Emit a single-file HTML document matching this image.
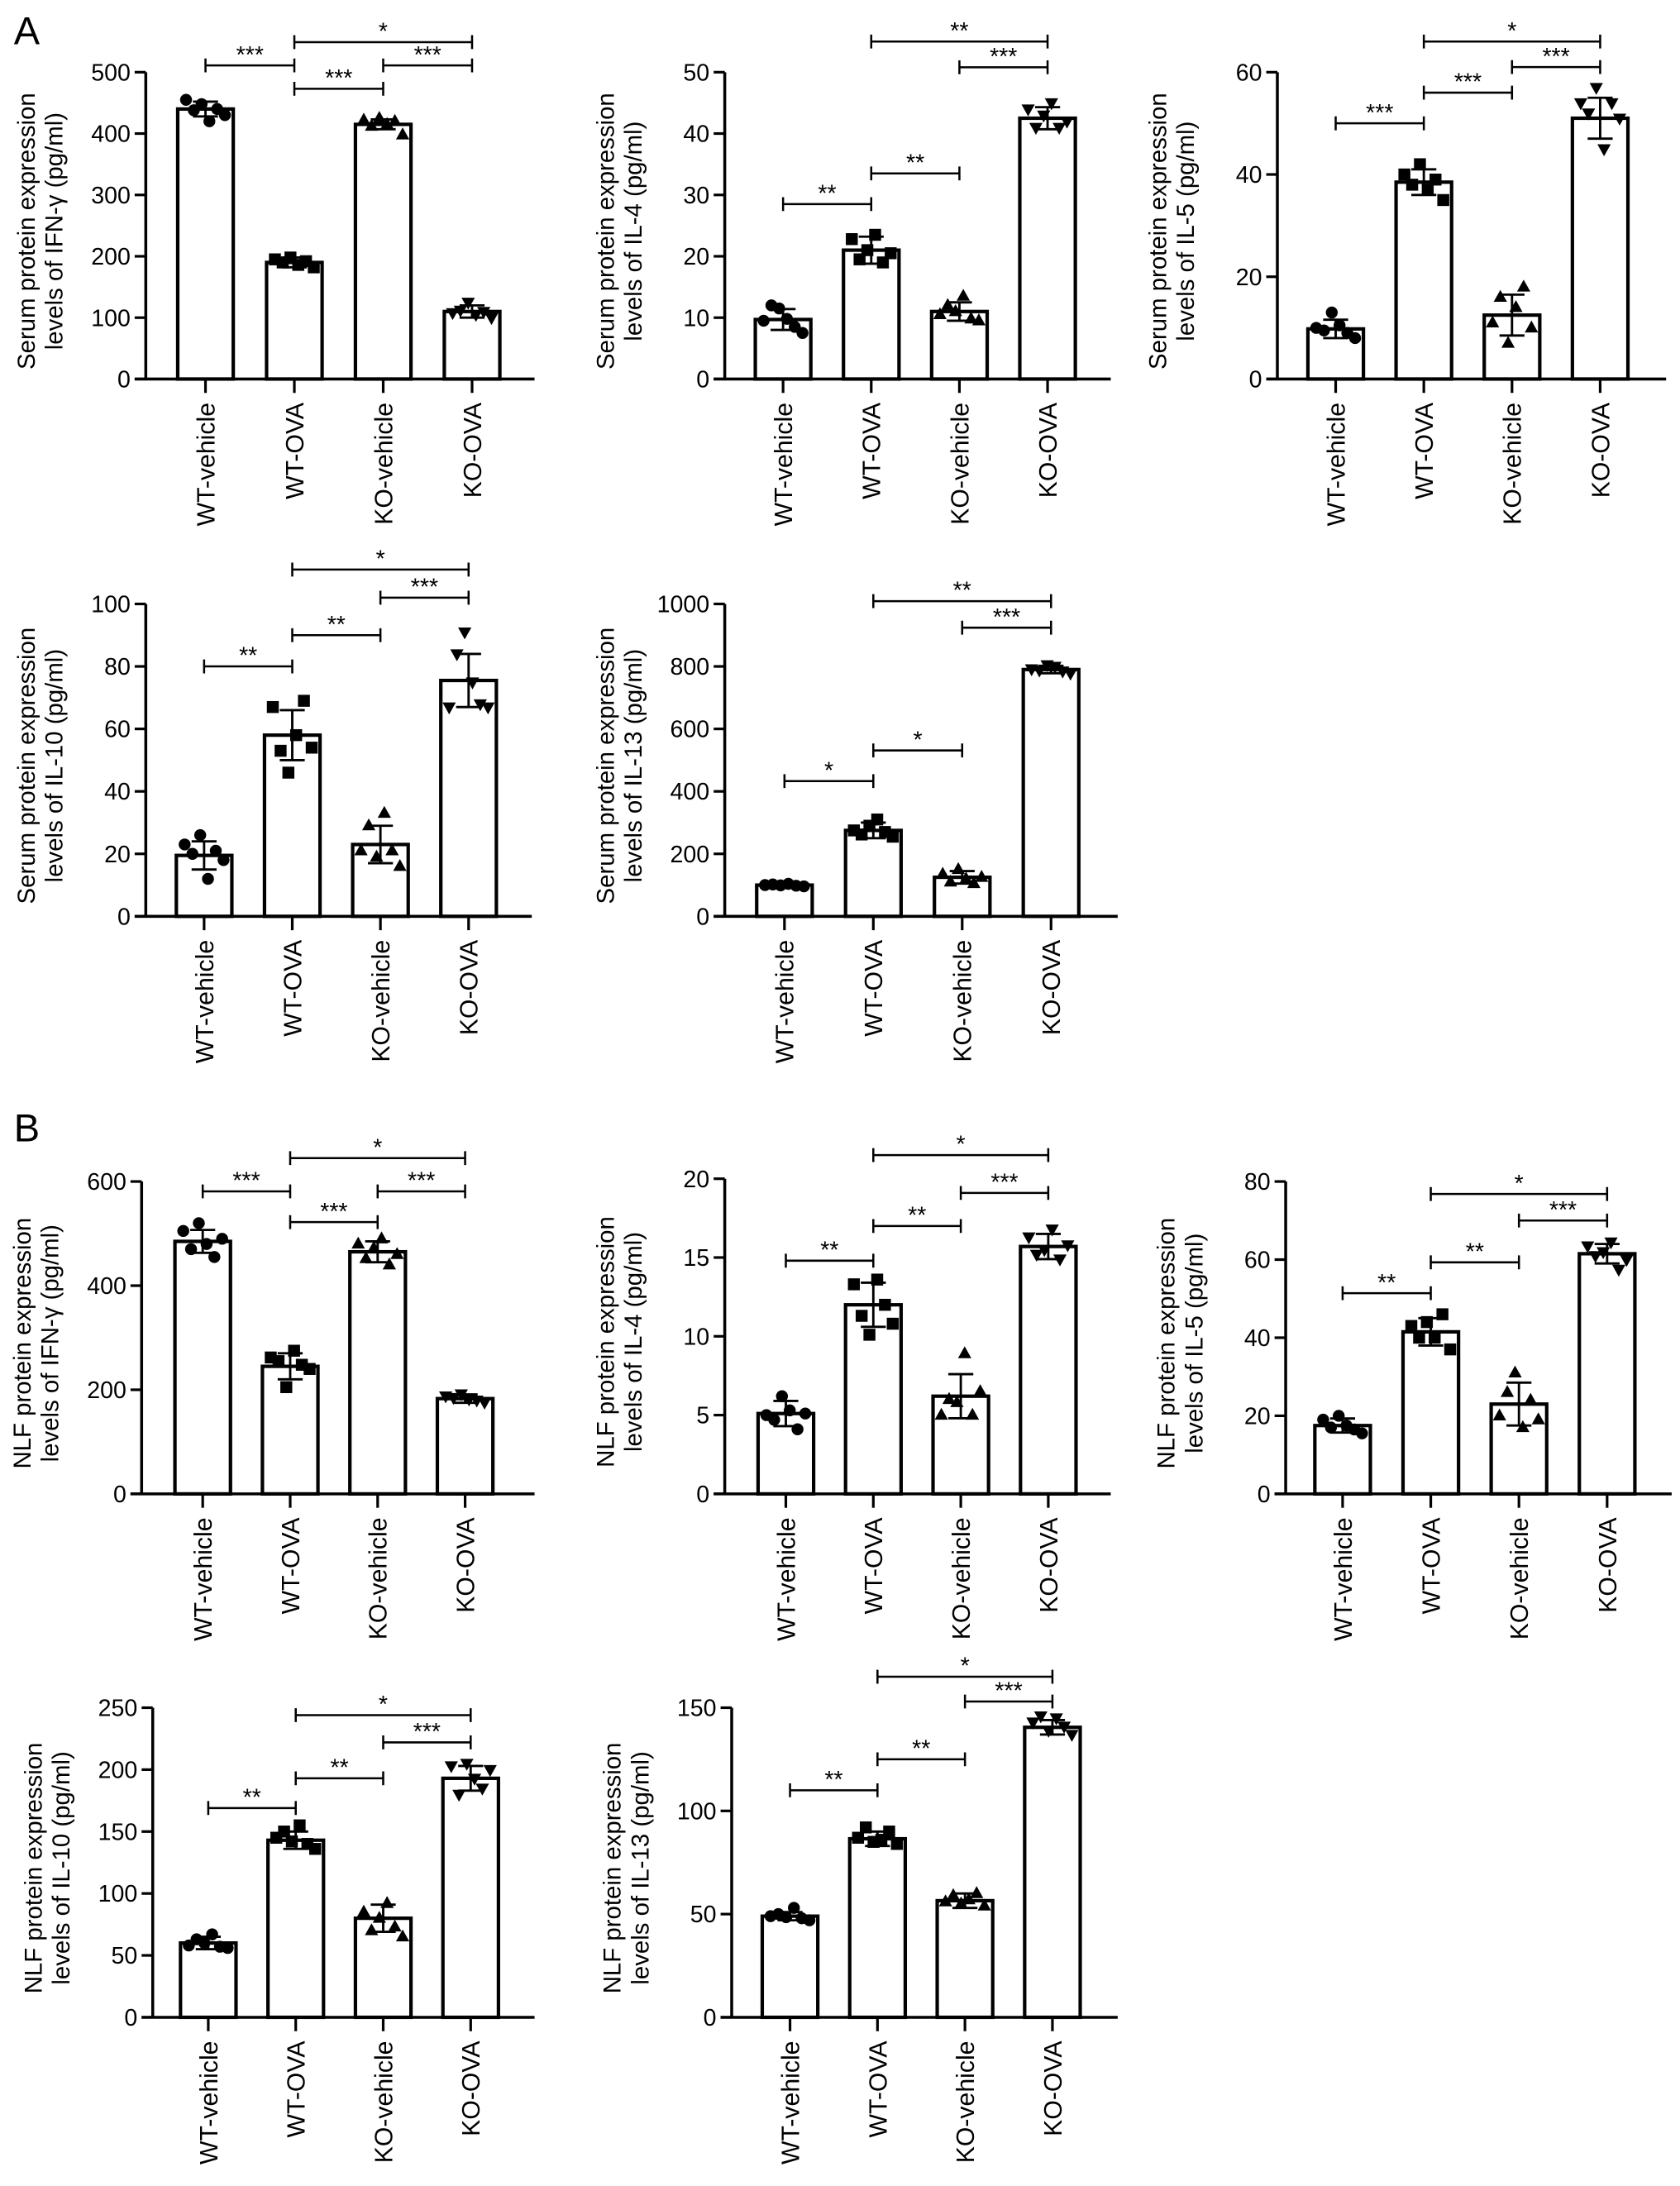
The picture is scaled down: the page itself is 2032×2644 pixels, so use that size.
<!DOCTYPE html>
<html><head><meta charset="utf-8"><style>
html,body{margin:0;padding:0;background:#fff;}
svg{display:block;font-family:"Liberation Sans",Arial,sans-serif;}
</style></head><body>
<svg id="fig" width="2032" height="2644" viewBox="0 0 1210 1574.5" preserveAspectRatio="none" xmlns="http://www.w3.org/2000/svg">
<rect width="1210" height="1574.5" fill="#fff"/>
<text x="10" y="32" font-size="28">A</text>
<text x="10" y="822" font-size="28">B</text>
</svg>
<script>
const categories = ["WT-vehicle","WT-OVA","KO-vehicle","KO-OVA"];
const p1Means=[440,190,415,110], p1Sd=[12,8,8,10];
const p1Pts=[[455,438,448,420,440,430],[195,190,198,186,192,182],[422,412,425,415,420,398],[108,112,125,105,110,100]];
const p2Means=[9.7,21,11,42.5], p2Sd=[1.7,2.2,1.5,1.8];
const p2Pts=[[9.5,12,11.5,9.8,8.5,7.5],[22.8,19.5,21,23.5,19,20.5],[10.5,12,11,13.5,9.8,9.5],[44,41,43,45,41,42]];
const p3Means=[9.8,38.5,12.5,51], p3Sd=[1.8,2.5,4,4];
const p3Pts=[[10,9.5,13,10.5,9,8],[40,38,42,37,39,35],[11,16,7,14,18,10],[54,52,57,45,54,51]];
const p4Means=[19.5,58,23,75.5], p4Sd=[4.5,8,6,8.5];
const p4Pts=[[23,20,26,12,21,18],[67,53,46,58,69,54],[21,29,19,33,21,16],[67,84,91,75,68,67]];
const p5Means=[100,275,125,790], p5Sd=[8,25,20,12];
const p5Pts=[[100,102,99,104,98,96],[275,262,290,310,270,255],[135,110,150,120,105,125],[792,788,805,800,785,778]];
const p6Means=[485,245,465,183], p6Sd=[22,25,20,8];
const p6Pts=[[505,470,520,480,455,490],[262,255,205,275,248,240],[480,452,472,490,440,460],[188,185,192,182,180,176]];
const p7Means=[5.1,12,6.2,15.7], p7Sd=[0.8,1.4,1.4,0.8];
const p7Pts=[[5,4.7,6.2,5.3,4.1,5.1],[13.3,11.3,10.1,13.6,12,10.8],[5,6,5.8,8.9,5,6.5],[16.3,15.2,15.5,16.8,14.9,15.8]];
const p8Means=[17.5,41.5,23,61.5], p8Sd=[1.8,3.5,5.5,2.5];
const p8Pts=[[19,17,20,17.5,16.5,15.5],[43,40,44,40,46,37],[20,26,31,17,24,19],[63.5,61,62,64.5,57.5,60]];
const p9Means=[60,143,80,193], p9Sd=[5,7,11,10];
const p9Pts=[[58,63,60,67,57,56],[145,150,142,155,140,136],[85,70,80,92,73,65],[203,180,205,193,185,200]];
const p10Means=[49,86.5,56.5,140.5], p10Sd=[2,3.5,3.5,3.5];
const p10Pts=[[49,50,48.5,53,48,47],[87,92,85,86,90,84],[56,59,55,57,60,54],[143,146,139,145,141,137]];
const p1Ticks=[0,100,200,300,400,500], p2Ticks=[0,10,20,30,40,50], p3Ticks=[0,20,40,60];
const p4Ticks=[0,20,40,60,80,100], p5Ticks=[0,200,400,600,800,1000];
const p6Ticks=[0,200,400,600], p7Ticks=[0,5,10,15,20], p8Ticks=[0,20,40,60,80];
const p9Ticks=[0,50,100,150,200,250], p10Ticks=[0,50,100,150];
const p1Sig=[[0,1,511,"***"],[1,2,473,"***"],[1,3,549,"*"],[2,3,511,"***"]];
const p2Sig=[[0,1,28.5,"**"],[1,2,33.5,"**"],[1,3,55,"**"],[2,3,50.8,"***"]];
const p3Sig=[[0,1,50,"***"],[1,2,56,"***"],[1,3,66,"*"],[2,3,61,"***"]];
const p4Sig=[[0,1,80,"**"],[1,2,90,"**"],[1,3,111,"*"],[2,3,102,"***"]];
const p5Sig=[[0,1,433,"*"],[1,2,531,"*"],[1,3,1009,"**"],[2,3,924,"***"]];
const p6Sig=[[0,1,581,"***"],[1,2,522,"***"],[1,3,645,"*"],[2,3,581,"***"]];
const p7Sig=[[0,1,14.8,"**"],[1,2,17,"**"],[1,3,21.5,"*"],[2,3,19.1,"***"]];
const p8Sig=[[0,1,51.4,"**"],[1,2,59.3,"**"],[1,3,76.8,"*"],[2,3,70,"***"]];
const p9Sig=[[0,1,169,"**"],[1,2,193,"**"],[1,3,244,"*"],[2,3,222,"***"]];
const p10Sig=[[0,1,110,"**"],[1,2,125,"**"],[1,3,165,"*"],[2,3,153,"***"]];

const NS="http://www.w3.org/2000/svg";
const svg=document.getElementById('fig');
function mk(tag,attrs,parent){const e=document.createElementNS(NS,tag);for(const k in attrs)e.setAttribute(k,attrs[k]);(parent||svg).appendChild(e);return e;}

function chart(id,cfg,means,sd,pts,ticks,sig,title1,title2){
  const g=mk('g',{});
  
  
  const max=ticks[ticks.length-1];
  const y=v=>cfg.y0-(cfg.y0-cfg.yTop)*v/max;
  const x=i=>cfg.x1+i*cfg.step;
  const ax=cfg.ax;
  const ya=mk('line',{x1:ax,y1:cfg.yTop,x2:ax,y2:cfg.y0,stroke:'#000','stroke-width':2.1},g);
  
  
  ticks.forEach(t=>{
    mk('line',{x1:ax-8,y1:y(t),x2:ax,y2:y(t),stroke:'#000','stroke-width':1.9},g);
    const tl=mk('text',{x:ax-11,y:y(t)+6,'font-size':17,'text-anchor':'end'},g);
    tl.textContent=t;
    
    
  });
  const xa=mk('line',{x1:ax-8,y1:cfg.y0,x2:cfg.xEnd,y2:cfg.y0,stroke:'#000','stroke-width':2.1},g);
  
  
  const cy=(cfg.y0+cfg.yTop)/2+4;
  const t1=mk('text',{x:0,y:0,'font-size':17.5,'text-anchor':'middle',transform:`translate(${ax-80},${cy}) rotate(-90)`},g);
  t1.textContent=title1;
  
  
  const t2=mk('text',{x:0,y:0,'font-size':17.5,'text-anchor':'middle',transform:`translate(${ax-60},${cy}) rotate(-90)`},g);
  t2.textContent=title2;
  
  
  const bw=40;
  categories.forEach((c,i)=>{
    const cx=x(i);
    mk('line',{x1:cx,y1:cfg.y0,x2:cx,y2:cfg.y0+10,stroke:'#000','stroke-width':1.9},g);
    const xl=mk('text',{x:0,y:0,'font-size':18,'text-anchor':'end',transform:`translate(${cx+6.5},${cfg.y0+17}) rotate(-90)`},g);
    xl.textContent=c;
    
    
    const b=mk('rect',{x:cx-bw/2,y:y(means[i]),width:bw,height:cfg.y0-y(means[i]),fill:'#fff',stroke:'#000','stroke-width':2.5},g);
    
    
    pts[i].forEach((v,j)=>{
      const px=cx-14+j*5.6, py=y(v), r=4.3;
      let m;
      if(i===0) m=mk('circle',{cx:px,cy:py,r:r},g);
      else if(i===1) m=mk('rect',{x:px-r,y:py-r,width:2*r,height:2*r},g);
      else if(i===2) m=mk('polygon',{points:`${px},${py-r-1} ${px-r-0.5},${py+r-1} ${px+r+0.5},${py+r-1}`},g);
      else m=mk('polygon',{points:`${px},${py+r+1} ${px-r-0.5},${py-r+1} ${px+r+0.5},${py-r+1}`},g);
      m.setAttribute('fill','#000');
      
      
    });
    const e1=y(means[i]+sd[i]), e2=y(means[i]-sd[i]);
    const eb=mk('path',{d:`M${cx},${e1}V${e2}M${cx-9},${e1}H${cx+9}M${cx-9},${e2}H${cx+9}`,stroke:'#000','stroke-width':1.7,fill:'none'},g);
    
    
  });
  sig.forEach(s=>{
    const a=x(s[0]),b=x(s[1]),yy=y(s[2]);
    const br=mk('path',{d:`M${a},${yy-5}V${yy+5}M${a},${yy}H${b}M${b},${yy-5}V${yy+5}`,stroke:'#000','stroke-width':1.5,fill:'none'},g);
    
    
    const st=mk('text',{x:(a+b)/2,y:yy-2,'font-size':17,'text-anchor':'middle'},g);
    st.textContent=s[3];
    
    
  });
}
chart('serum-ifn-gamma-chart',{ax:105,x1:148,step:64,xEnd:385,y0:273,yTop:52},p1Means,p1Sd,p1Pts,p1Ticks,p1Sig,'Serum protein expression','levels of IFN-γ (pg/ml)');
chart('serum-il4-chart',{ax:522,x1:564,step:63.5,xEnd:800,y0:273,yTop:52},p2Means,p2Sd,p2Pts,p2Ticks,p2Sig,'Serum protein expression','levels of IL-4 (pg/ml)');
chart('serum-il5-chart',{ax:920,x1:962,step:63.5,xEnd:1200,y0:273,yTop:52},p3Means,p3Sd,p3Pts,p3Ticks,p3Sig,'Serum protein expression','levels of IL-5 (pg/ml)');
chart('serum-il10-chart',{ax:105,x1:147,step:63.5,xEnd:383,y0:660,yTop:435},p4Means,p4Sd,p4Pts,p4Ticks,p4Sig,'Serum protein expression','levels of IL-10 (pg/ml)');
chart('serum-il13-chart',{ax:522,x1:565,step:64,xEnd:805,y0:660,yTop:435},p5Means,p5Sd,p5Pts,p5Ticks,p5Sig,'Serum protein expression','levels of IL-13 (pg/ml)');
chart('nlf-ifn-gamma-chart',{ax:102,x1:146,step:63,xEnd:385,y0:1076,yTop:851},p6Means,p6Sd,p6Pts,p6Ticks,p6Sig,'NLF protein expression','levels of IFN-γ (pg/ml)');
chart('nlf-il4-chart',{ax:522,x1:566,step:63,xEnd:800,y0:1076,yTop:849},p7Means,p7Sd,p7Pts,p7Ticks,p7Sig,'NLF protein expression','levels of IL-4 (pg/ml)');
chart('nlf-il5-chart',{ax:926,x1:967,step:63.5,xEnd:1204,y0:1076,yTop:851},p8Means,p8Sd,p8Pts,p8Ticks,p8Sig,'NLF protein expression','levels of IL-5 (pg/ml)');
chart('nlf-il10-chart',{ax:110,x1:150,step:63,xEnd:385,y0:1453,yTop:1230},p9Means,p9Sd,p9Pts,p9Ticks,p9Sig,'NLF protein expression','levels of IL-10 (pg/ml)');
chart('nlf-il13-chart',{ax:527,x1:569,step:63,xEnd:805,y0:1453,yTop:1230},p10Means,p10Sd,p10Pts,p10Ticks,p10Sig,'NLF protein expression','levels of IL-13 (pg/ml)');
</script>
</body></html>
